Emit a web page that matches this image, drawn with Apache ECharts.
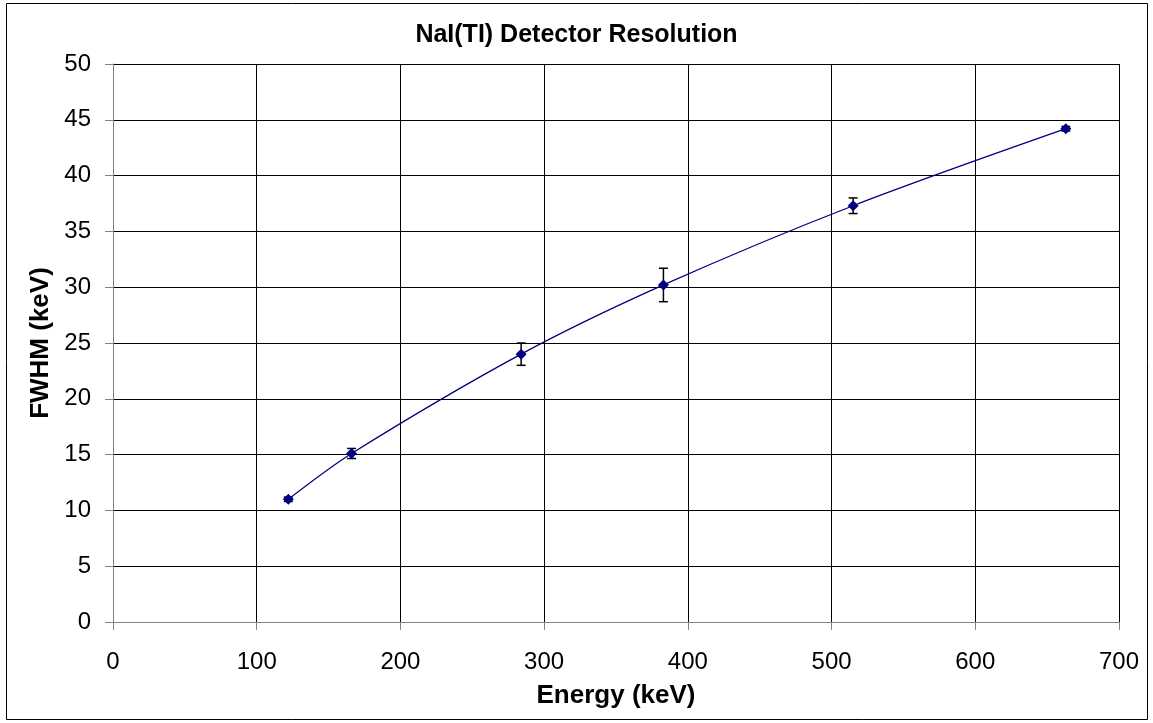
<!DOCTYPE html>
<html>
<head>
<meta charset="utf-8">
<script src="https://cdn.jsdelivr.net/npm/echarts@6/dist/echarts.min.js"></script>
<style>
  html, body { margin: 0; padding: 0; background: #fff; }
  #main { width: 1153px; height: 723px; }
</style>
</head>
<body>
<div id="main"></div>
<script>
// energy of each peak (keV) and measured FWHM (keV) with its error
var energy = [122, 166, 284, 383, 515, 663];
var fwhm = [11.0, 15.1, 24.0, 30.2, 37.3, 44.2];
var fwhmErr = [0.2, 0.45, 1.0, 1.5, 0.7, 0.2];

var xTicks = [0, 100, 200, 300, 400, 500, 600, 700];
var yTicks = [0, 5, 10, 15, 20, 25, 30, 35, 40, 45, 50];

var chartDom = document.getElementById('main');
var myChart = echarts.init(chartDom);
var option;

var points = energy.map(function (e, i) { return [e, fwhm[i]]; });
var bars = energy.map(function (e, i) {
    return [e, fwhm[i] - fwhmErr[i], fwhm[i] + fwhmErr[i]];
});

var font = 'Liberation Sans, Arial, sans-serif';

option = {
    animation: false,
    backgroundColor: '#fff',
    title: {
        text: 'NaI(TI) Detector Resolution',
        left: 'center',
        top: 18,
        textStyle: { fontFamily: font, fontSize: 25, fontWeight: 'bold', color: '#000' }
    },
    graphic: [{
        type: 'rect',
        shape: { x: 6.5, y: 3.5, width: 1141, height: 716 },
        style: { fill: null, stroke: '#000', lineWidth: 1 },
        silent: true
    }],
    grid: { left: 113, right: 34, top: 64, bottom: 101 },
    xAxis: {
        type: 'value',
        min: xTicks[0],
        max: xTicks[xTicks.length - 1],
        interval: 100,
        name: 'Energy (keV)',
        nameLocation: 'middle',
        nameGap: 61,
        nameTextStyle: { fontFamily: font, fontSize: 26, fontWeight: 'bold', color: '#000' },
        axisLine: { lineStyle: { color: '#808080', width: 1 } },
        axisTick: { show: true, length: 8, lineStyle: { color: '#808080' } },
        axisLabel: { margin: 28, fontFamily: font, fontSize: 24, color: '#000' },
        splitLine: { show: true, lineStyle: { color: '#000', width: 1 } }
    },
    yAxis: {
        type: 'value',
        min: yTicks[0],
        max: yTicks[yTicks.length - 1],
        interval: 5,
        name: 'FWHM (keV)',
        nameLocation: 'middle',
        nameGap: 58,
        nameRotate: 90,
        nameTextStyle: { fontFamily: font, fontSize: 26, fontWeight: 'bold', color: '#000' },
        axisLine: { show: true, lineStyle: { color: '#808080', width: 1 } },
        axisTick: { show: true, length: 8, lineStyle: { color: '#808080' } },
        axisLabel: { margin: 22, fontFamily: font, fontSize: 24, color: '#000' },
        splitLine: { show: true, lineStyle: { color: '#000', width: 1 } }
    },
    series: [
        {
            name: 'error',
            type: 'custom',
            data: bars,
            z: 3,
            renderItem: function (params, api) {
                var x = api.value(0);
                var lo = api.coord([x, api.value(1)]);
                var hi = api.coord([x, api.value(2)]);
                var hw = 4.5;
                var st = { stroke: '#000', lineWidth: 1.5 };
                return {
                    type: 'group',
                    children: [
                        { type: 'line', shape: { x1: lo[0], y1: lo[1], x2: hi[0], y2: hi[1] }, style: st },
                        { type: 'line', shape: { x1: lo[0] - hw, y1: lo[1], x2: lo[0] + hw, y2: lo[1] }, style: st },
                        { type: 'line', shape: { x1: hi[0] - hw, y1: hi[1], x2: hi[0] + hw, y2: hi[1] }, style: st }
                    ]
                };
            }
        },
        {
            name: 'FWHM',
            type: 'line',
            data: points,
            smooth: 0.3,
            z: 4,
            symbol: 'diamond',
            symbolSize: 11,
            itemStyle: { color: '#000080' },
            lineStyle: { color: '#000080', width: 1.3 }
        }
    ]
};

option && myChart.setOption(option);
</script>
</body>
</html>
